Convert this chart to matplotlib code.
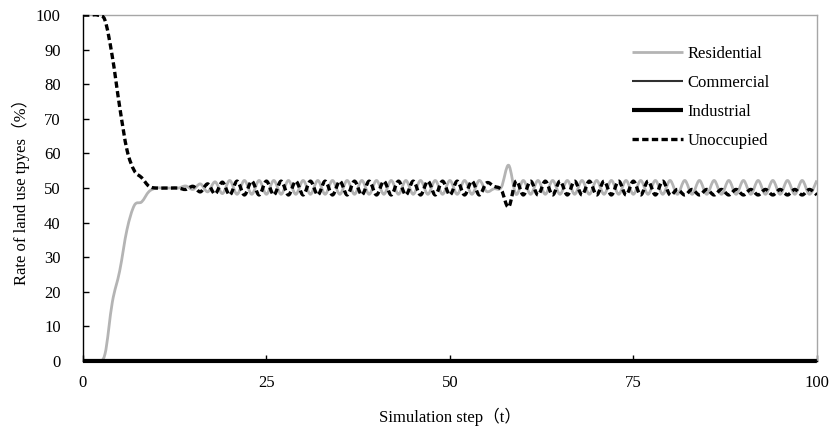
import numpy as np
import matplotlib
matplotlib.use('Agg')
import matplotlib.pyplot as plt
from matplotlib.path import Path
from matplotlib.patches import PathPatch
from matplotlib.lines import Line2D

# steps 0..100
steps = list(range(0, 101))

residential = [
    0, 0, 0, 2, 17, 26, 38, 45, 46, 49,                                # 0-9
    50, 50, 50, 50, 50.6, 49.6, 51.2, 48.9, 51.8, 48.4,                # 10-19
    52.2, 48.2, 52.2, 48.2, 52.2, 48.2, 52.2, 48.2, 52.2, 48.2,        # 20-29
    52.2, 48.2, 52.2, 48.2, 52.2, 48.2, 52.2, 48.2, 52.2, 48.2,        # 30-39
    52.2, 48.2, 52.2, 48.2, 52.2, 48.2, 52.2, 48.2, 52.2, 48.2,        # 40-49
    52.2, 48.2, 52.2, 48.2, 52.2, 49.0, 49.8, 50.2, 56.6, 48.2,        # 50-59
    52.2, 48.2, 52.2, 48.2, 52.2, 48.2, 52.2, 48.2, 52.2, 48.2,        # 60-69
    52.2, 48.2, 52.2, 48.2, 52.2, 48.2, 52.2, 48.2, 52.2, 48.2,        # 70-79
    52.2, 48.2, 52.2, 48.2, 52.2, 48.2, 52.2, 48.2, 52.2, 48.2,        # 80-89
    52.2, 48.2, 52.2, 48.2, 52.2, 48.2, 52.2, 48.2, 52.2, 48.2,        # 90-99
    52.2,                                                              # 100
]

commercial = [
    0, 0, 0, 0, 0, 0, 0, 0, 0, 0, 0, 0, 0, 0, 0, 0, 0, 0, 0, 0,
    0, 0, 0, 0, 0, 0, 0, 0, 0, 0, 0, 0, 0, 0, 0, 0, 0, 0, 0, 0,
    0, 0, 0, 0, 0, 0, 0, 0, 0, 0, 0, 0, 0, 0, 0, 0, 0, 0, 0, 0,
    0, 0, 0, 0, 0, 0, 0, 0, 0, 0, 0, 0, 0, 0, 0, 0, 0, 0, 0, 0,
    0, 0, 0, 0, 0, 0, 0, 0, 0, 0, 0, 0, 0, 0, 0, 0, 0, 0, 0, 0,
    0,
]

industrial = [
    0, 0, 0, 0, 0, 0, 0, 0, 0, 0, 0, 0, 0, 0, 0, 0, 0, 0, 0, 0,
    0, 0, 0, 0, 0, 0, 0, 0, 0, 0, 0, 0, 0, 0, 0, 0, 0, 0, 0, 0,
    0, 0, 0, 0, 0, 0, 0, 0, 0, 0, 0, 0, 0, 0, 0, 0, 0, 0, 0, 0,
    0, 0, 0, 0, 0, 0, 0, 0, 0, 0, 0, 0, 0, 0, 0, 0, 0, 0, 0, 0,
    0, 0, 0, 0, 0, 0, 0, 0, 0, 0, 0, 0, 0, 0, 0, 0, 0, 0, 0, 0,
    0,
]

unoccupied = [
    100, 100, 100, 98.5, 88, 73.5, 61, 55, 53, 50.5,                   # 0-9
    50, 50, 50, 50, 49.6, 50.5, 48.9, 51.2, 48.3, 51.7,                # 10-19
    48.0, 52.0, 48.0, 52.0, 48.0, 52.0, 48.0, 52.0, 48.0, 52.0,        # 20-29
    48.0, 52.0, 48.0, 52.0, 48.0, 52.0, 48.0, 52.0, 48.0, 52.0,        # 30-39
    48.0, 52.0, 48.0, 52.0, 48.0, 52.0, 48.0, 52.0, 48.0, 52.0,        # 40-49
    48.0, 52.0, 48.0, 52.0, 48.0, 51.5, 50.5, 49.5, 44.5, 52.0,        # 50-59
    48.0, 52.0, 48.0, 52.0, 48.0, 52.0, 48.0, 52.0, 48.0, 52.0,        # 60-69
    48.0, 52.0, 48.0, 52.0, 48.0, 52.0, 48.0, 52.0, 48.0, 52.0,        # 70-79
    48.0, 49.6, 48.0, 49.6, 48.0, 49.6, 48.0, 49.6, 48.0, 49.6,        # 80-89
    48.0, 49.6, 48.0, 49.6, 48.0, 49.6, 48.0, 49.6, 48.0, 49.6,        # 90-99
    48.0,                                                              # 100
]

series_names = ['Residential', 'Commercial', 'Industrial', 'Unoccupied']
x_ticks = [0, 25, 50, 75, 100]
y_ticks = [0, 10, 20, 30, 40, 50, 60, 70, 80, 90, 100]

plt.rcParams['font.family'] = ['Liberation Serif', 'Noto Sans CJK SC', 'DejaVu Sans']
plt.rcParams['font.size'] = 12


def smooth_path(x, y):
    # Excel-like smoothed line: Catmull-Rom segments drawn as cubic Beziers
    x = np.asarray(x, float)
    y = np.asarray(y, float)
    px = np.concatenate([[x[0]], x, [x[-1]]])
    py = np.concatenate([[y[0]], y, [y[-1]]])
    verts = [(x[0], y[0])]
    codes = [Path.MOVETO]
    for i in range(1, len(x)):
        a, b = i, i + 1
        c1 = (px[a] + (px[a + 1] - px[a - 1]) / 6, py[a] + (py[a + 1] - py[a - 1]) / 6)
        c2 = (px[b] - (px[b + 1] - px[b - 1]) / 6, py[b] - (py[b + 1] - py[b - 1]) / 6)
        verts += [c1, c2, (px[b], py[b])]
        codes += [Path.CURVE4] * 3
    return Path(verts, codes)


fig = plt.figure(figsize=(8.33, 4.32), dpi=100)
ax = fig.add_axes([0.0996, 0.1644, 0.881, 0.8006])

styles = {
    'Residential': dict(color='#b4b4b4', lw=2.0, ls='-'),
    'Commercial': dict(color='#303030', lw=1.5, ls='-'),
    'Industrial': dict(color='black', lw=3.0, ls='-'),
    'Unoccupied': dict(color='black', lw=2.4, ls=(0, (1.9, 1.0))),
}
data = {'Residential': residential, 'Commercial': commercial,
        'Industrial': industrial, 'Unoccupied': unoccupied}

for k, name in enumerate(series_names):
    st = styles[name]
    patch = PathPatch(smooth_path(steps, data[name]), fill=False,
                      edgecolor=st['color'], lw=st['lw'], ls=st['ls'],
                      capstyle='butt', joinstyle='round', zorder=2 + k,
                      clip_on=(name not in ('Commercial', 'Industrial')))
    ax.add_patch(patch)

ax.set_xlim(0, 100)
ax.set_ylim(0, 100)
ax.set_xticks(x_ticks)
ax.set_yticks(y_ticks)
ax.tick_params(axis='y', direction='in', length=4, width=1, pad=16, labelsize=12)
ax.tick_params(axis='x', direction='in', length=4, width=1, pad=10, labelsize=12)

for side in ['top', 'right']:
    ax.spines[side].set_color('#a6a6a6')
    ax.spines[side].set_linewidth(1.0)
for side in ['left', 'bottom']:
    ax.spines[side].set_color('black')
    ax.spines[side].set_linewidth(1.0)

ax.set_xlabel('Simulation step（t）', fontsize=12, labelpad=12)
ax.set_ylabel('Rate of land use tpyes（%）', fontsize=12, labelpad=4)

handles = [Line2D([], [], color=styles[n]['color'], lw=styles[n]['lw'],
                  ls=styles[n]['ls'], solid_capstyle='butt', dash_capstyle='butt')
           for n in series_names]
ax.legend(handles, series_names, loc='upper left', bbox_to_anchor=(0.748, 0.911),
          frameon=False, borderpad=0, borderaxespad=0, handlelength=3.05,
          handletextpad=0.3, labelspacing=0.78, fontsize=12)

fig.savefig('out.png', dpi=100)
